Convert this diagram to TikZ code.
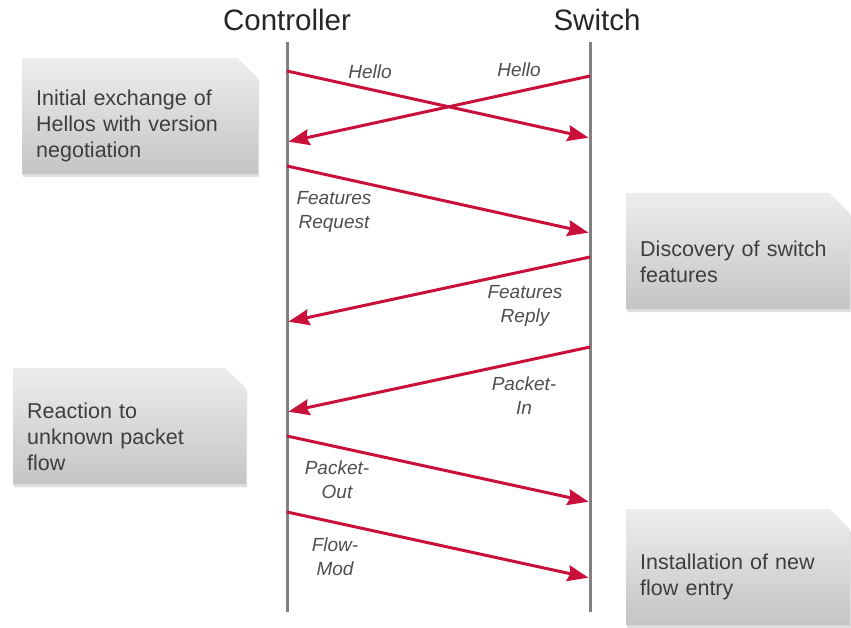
\documentclass[tikz,border=0pt]{standalone}
\usepackage{fontspec}
\setmainfont{Liberation Sans}
\usetikzlibrary{positioning}
\usetikzlibrary{arrows.meta,shapes.misc,shadows}

\definecolor{msgred}{RGB}{200,16,58}
\definecolor{lifegray}{RGB}{128,128,128}
\definecolor{notetext}{RGB}{62,62,62}
\definecolor{labeltext}{RGB}{78,78,78}

\begin{document}
\begin{tikzpicture}[x=1pt,y=-1pt,
  lifeline/.style={draw=lifegray,line width=3pt},
  msg/.style={-{Stealth[length=21pt,width=16pt,inset=2.5pt]},draw=msgred,line width=3pt,shorten >=1.5pt},
  msglabel/.style={font=\fontsize{19}{24}\selectfont\itshape,text=labeltext,align=center,inner sep=0pt},
  party/.style={font=\fontsize{29.5}{32}\selectfont,text={black!85}},
  note/.style={chamfered rectangle,chamfered rectangle corners=north east,
    chamfered rectangle xsep=10.5pt,chamfered rectangle ysep=10pt,inner xsep=0pt,inner ysep=0pt,
    minimum width=236pt,minimum height=116pt,text width=208pt,align=left,
    anchor=north west,top color={black!7},bottom color={black!23},draw=none,
    drop shadow={shadow xshift=1pt,shadow yshift=-3pt,opacity=.25},
    font=\fontsize{21.5}{26}\selectfont,text=notetext,
    execute at begin node={\rule{0pt}{36pt}}}]
  \useasboundingbox (0,0) rectangle (851,628);

  % side notes
  \node[note]                     (hellonote)   at (22,58)  {Initial exchange of\\Hellos with version\\negotiation};
  \node[note,minimum width=224pt,text width=196pt] (featnote) at (626,193) {Discovery of switch\\features};
  \node[note,minimum width=233pt,text width=205pt] (reactnote) at (13,368) {Reaction to\\unknown packet\\flow};
  \node[note,minimum width=224pt,text width=196pt] (flownote) at (626,509) {Installation of new\\flow entry};

  % parties and lifelines
  \node[party] (Controller) at (287,20) {Controller};
  \node[party] (Switch)     at (597,20) {Switch};
  \coordinate (ctrltop) at (287,42);  \coordinate (ctrlbot) at (287,612);
  \coordinate (swtop)   at (590,42);  \coordinate (swbot)   at (590,612);
  \draw[lifeline] (ctrltop) -- (ctrlbot);
  \draw[lifeline] (swtop) -- (swbot);

  % message ends
  \coordinate (cA) at (287,71);   \coordinate (sA) at (590,138);
  \coordinate (sB) at (590,76);   \coordinate (cB) at (287,142);
  \coordinate (cC) at (287,166);  \coordinate (sC) at (590,233);
  \coordinate (sD) at (590,257);  \coordinate (cD) at (287,322);
  \coordinate (sE) at (590,347);  \coordinate (cE) at (287,412);
  \coordinate (cF) at (287,436);  \coordinate (sF) at (590,502);
  \coordinate (cG) at (287,512);  \coordinate (sG) at (590,578);

  \draw[msg] (cA) -- (sA);
  \draw[msg] (sB) -- (cB);
  \draw[msg] (cC) -- (sC);
  \draw[msg] (sD) -- (cD);
  \draw[msg] (sE) -- (cE);
  \draw[msg] (cF) -- (sF);
  \draw[msg] (cG) -- (sG);

  % message names
  \node[msglabel] (HelloC)   at (370,72)  {Hello};
  \node[msglabel] (HelloS)   at (519,70)  {Hello};
  \node[msglabel] (FeatReq)  at (334,212) {Features\\Request};
  \node[msglabel] (FeatRep)  at (525,306) {Features\\Reply};
  \node[msglabel] (PktIn)    at (524,396) {Packet-\\In};
  \node[msglabel] (PktOut)   at (337,480) {Packet-\\Out};
  \node[msglabel] (FlowMod)  at (335,557) {Flow-\\Mod};
\end{tikzpicture}
\end{document}
